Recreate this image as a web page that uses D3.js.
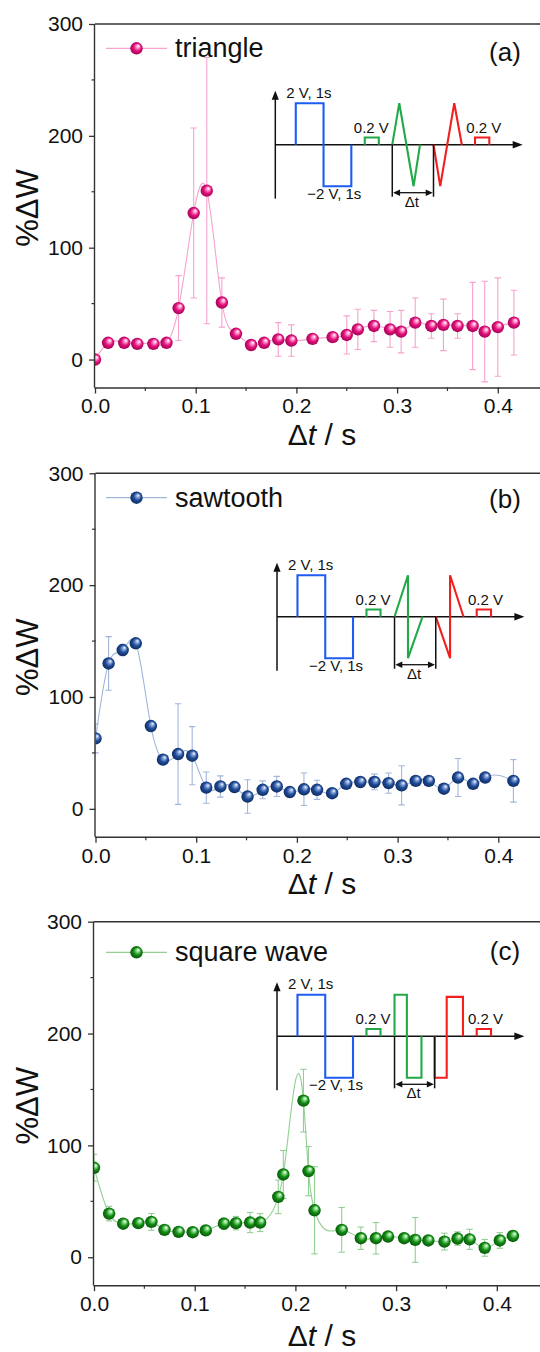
<!DOCTYPE html>
<html>
<head>
<meta charset="utf-8">
<script src="https://cdn.jsdelivr.net/npm/d3@7"></script>
<style>
  body { margin: 0; background: #fff; }
  svg { display: block; }
  text { font-family: "Liberation Sans", Arial, sans-serif; }
</style>
</head>
<body>
<svg id="fig" width="540" height="1352"></svg>
<script>
// ---- Measured %ΔW versus pulse separation Δt (s) ----
const triangleX = [0, 0.013, 0.029, 0.042, 0.058, 0.071, 0.083, 0.098, 0.111, 0.126, 0.140, 0.155, 0.168, 0.182, 0.195,
                   0.216, 0.236, 0.250, 0.261, 0.277, 0.293, 0.304, 0.318, 0.334, 0.346, 0.360, 0.375, 0.387, 0.400, 0.416];
const triangleY = [0, 15, 15, 14, 14, 15, 46, 131, 151, 51, 23, 13, 15, 18, 17,
                   18.5, 20, 22, 27, 30, 27, 25, 33, 30, 31, 30, 30, 25, 29, 33];
const triangleErr = [0, 4, 3, 4, 3, 3, 29, 76, 119, 22, 3, 3, 3, 15, 14,
                     3, 4, 17, 18, 14, 16, 19, 22, 11, 23, 11, 39, 45, 44, 29];

const sawtoothX = [0, 0.013, 0.027, 0.040, 0.055, 0.067, 0.082, 0.096, 0.110, 0.124, 0.138, 0.151, 0.166, 0.180, 0.193,
                   0.207, 0.220, 0.235, 0.249, 0.263, 0.277, 0.291, 0.304, 0.318, 0.331, 0.346, 0.360, 0.375, 0.387, 0.415];
const sawtoothY = [63, 130, 142, 148, 74, 44, 49, 47.5, 19, 20, 19.5, 11, 17, 20, 15,
                   17.5, 17, 14, 22.4, 24, 24, 23, 21, 25, 25, 18, 28, 22.4, 28, 25];
const sawtoothErr = [13, 24, 5, 3, 3, 3, 45, 26, 14, 9.5, 3, 15, 8, 9, 3,
                     14.5, 8.5, 3, 3, 3, 7, 9, 17.5, 3, 3, 4, 17, 4, 3, 19];

const squareX = [0, 0.015, 0.029, 0.044, 0.057, 0.070, 0.084, 0.098, 0.111, 0.129, 0.141, 0.155, 0.165, 0.183, 0.188,
                 0.208, 0.213, 0.219, 0.246, 0.265, 0.280, 0.292, 0.308, 0.319, 0.332, 0.348, 0.361, 0.373, 0.388, 0.403, 0.416];
const squareY = [80, 39, 30, 30.5, 31.6, 24.5, 22.7, 22.4, 24, 30, 30.5, 31, 31, 54, 74,
                 140, 77, 42, 24.5, 17, 17, 18.5, 17, 15.5, 15, 14, 16.7, 16, 8.4, 15, 19];
const squareErr = [12, 6.5, 3, 3, 7.5, 3, 3, 3, 3, 5, 6, 9, 8, 15, 21.5,
                   28, 22, 39, 20, 10, 14, 4, 4, 20, 3, 7.5, 6, 9, 7.5, 7, 3];

const seriesNames = ["triangle", "sawtooth", "square wave"];
const panelLabels = ["(a)", "(b)", "(c)"];
const yTicks = [0, 100, 200, 300];
const yMinorTicks = [50, 150, 250];
const xTicks = [0, 0.1, 0.2, 0.3, 0.4];
const xMinorTicks = [0.05, 0.15, 0.25, 0.35, 0.45];

// ---- Pulse-sequence schematic (t in units of one 1 s pulse, v in volts; probe level drawn enlarged) ----
const writePulse = [[0.73, 0], [0.73, 2], [1.72, 2], [1.72, -2], [2.71, -2], [2.71, 0]];
const probeBefore = [[3.19, 0], [3.19, 0.35], [3.69, 0.35], [3.69, 0]];
const probeAfter = [[7.12, 0], [7.12, 0.35], [7.63, 0.35], [7.63, 0]];
const trianglePair = [[[4.17, 0], [4.42, 2], [4.93, -2], [5.16, 0]],
                      [[5.64, 0], [5.88, -2], [6.38, 2], [6.65, 0]]];
const sawtoothPair = [[[4.19, 0], [4.67, 2], [4.67, -2], [5.19, 0]],
                      [[5.66, 0], [6.17, -2], [6.17, 2], [6.65, 0]]];
const squarePair = [[[4.19, 0], [4.19, 2], [4.63, 2], [4.63, -2], [5.15, -2], [5.15, 0]],
                    [[5.62, 0], [5.62, -2], [6.05, -2], [6.05, 1.9], [6.63, 1.9], [6.63, 0]]];
const axisEnd = 8.82;

// ---- Natural cubic spline y(x) as a d3 curve ----
function SplineX(context) { this._context = context; }
SplineX.prototype = {
  areaStart() {}, areaEnd() {},
  lineStart() { this._x = []; this._y = []; },
  point(x, y) { this._x.push(+x); this._y.push(+y); },
  lineEnd() {
    const x = this._x, y = this._y, n = x.length, c = this._context;
    if (!n) return;
    c.moveTo(x[0], y[0]);
    if (n === 2) { c.lineTo(x[1], y[1]); return; }
    const h = [], M = new Array(n).fill(0);
    for (let i = 0; i < n - 1; i++) h.push(x[i + 1] - x[i]);
    // tridiagonal system for interior second derivatives
    const a = [], b = [], cc = [], r = [];
    for (let i = 1; i < n - 1; i++) {
      a.push(h[i - 1]); b.push(2 * (h[i - 1] + h[i])); cc.push(h[i]);
      r.push(6 * ((y[i + 1] - y[i]) / h[i] - (y[i] - y[i - 1]) / h[i - 1]));
    }
    const m = b.length;
    for (let i = 1; i < m; i++) {
      const w = a[i] / b[i - 1];
      b[i] -= w * cc[i - 1]; r[i] -= w * r[i - 1];
    }
    const sol = new Array(m);
    sol[m - 1] = r[m - 1] / b[m - 1];
    for (let i = m - 2; i >= 0; i--) sol[i] = (r[i] - cc[i] * sol[i + 1]) / b[i];
    for (let i = 0; i < m; i++) M[i + 1] = sol[i];
    const d = new Array(n);
    for (let i = 0; i < n - 1; i++) d[i] = (y[i + 1] - y[i]) / h[i] - h[i] * (2 * M[i] + M[i + 1]) / 6;
    d[n - 1] = (y[n - 1] - y[n - 2]) / h[n - 2] + h[n - 2] * (M[n - 2] + 2 * M[n - 1]) / 6;
    for (let i = 0; i < n - 1; i++) {
      const k = h[i] / 3;
      c.bezierCurveTo(x[i] + k, y[i] + d[i] * k, x[i + 1] - k, y[i + 1] - d[i + 1] * k, x[i + 1], y[i + 1]);
    }
  }
};
const curveSplineX = ctx => new SplineX(ctx);

// ---- Layout ----
const svg = d3.select("#fig");
const defs = svg.append("defs");
const plotH = 363.5;
const pxPerUnit = 1007;
const axisColor = "#333";

const panels = [
  { xs: triangleX, ys: triangleY, es: triangleErr, pair: trianglePair,
    top: 24, left: 95, legendY: 48.3, labelY: 61, insetX: 275.3, insetY: 144.7, titleY: 445,
    dot: "#e3117c", dotLight: "#ff9fd0", dotDark: "#99004f", line: "#f5a3cf" },
  { xs: sawtoothX, ys: sawtoothY, es: sawtoothErr, pair: sawtoothPair,
    top: 473.3, left: 95.5, legendY: 497.7, labelY: 507.5, insetX: 277, insetY: 616.7, titleY: 894,
    dot: "#1f4c98", dotLight: "#8fa9dc", dotDark: "#0c2658", line: "#a2b6da" },
  { xs: squareX, ys: squareY, es: squareErr, pair: squarePair,
    top: 921.7, left: 94, legendY: 952.3, labelY: 960, insetX: 277, insetY: 1036.3, titleY: 1346,
    dot: "#138c13", dotLight: "#8ee08e", dotDark: "#054d07", line: "#93cf93" }
];

panels.forEach((p, k) => {
  const x = d3.scaleLinear().domain([0, 0.46]).range([p.left, p.left + 0.46 * pxPerUnit]);
  const y = d3.scaleLinear().domain([-25, 300]).range([p.top + plotH, p.top]);
  const g = svg.append("g");

  // ball-shaded marker
  const gid = "ball" + k;
  const grad = defs.append("radialGradient").attr("id", gid)
    .attr("cx", "0.5").attr("cy", "0.5").attr("r", "0.55").attr("fx", "0.66").attr("fy", "0.3");
  grad.append("stop").attr("offset", "0").attr("stop-color", "#ffffff");
  grad.append("stop").attr("offset", "0.22").attr("stop-color", p.dotLight);
  grad.append("stop").attr("offset", "0.55").attr("stop-color", p.dot);
  grad.append("stop").attr("offset", "1").attr("stop-color", p.dotDark);

  const cid = "clip" + k;
  defs.append("clipPath").attr("id", cid).append("rect")
    .attr("x", x(0)).attr("y", y(300)).attr("width", 540 - x(0)).attr("height", plotH);

  const pts = p.xs.map((v, i) => ({ x: v, y: p.ys[i], e: p.es[i] }));
  const data = g.append("g").attr("clip-path", `url(#${cid})`);

  // connecting spline
  data.append("path").datum(pts)
    .attr("d", d3.line().x(d => x(d.x)).y(d => y(d.y)).curve(curveSplineX))
    .attr("fill", "none").attr("stroke", p.line).attr("stroke-width", 1.1);

  // error bars
  const eb = data.append("g").attr("stroke", p.line).attr("stroke-width", 1.1);
  pts.filter(d => d.e > 0).forEach(d => {
    const cx = x(d.x);
    eb.append("line").attr("x1", cx).attr("x2", cx).attr("y1", y(d.y - d.e)).attr("y2", y(d.y + d.e));
    eb.append("line").attr("x1", cx - 3.2).attr("x2", cx + 3.2).attr("y1", y(d.y - d.e)).attr("y2", y(d.y - d.e));
    eb.append("line").attr("x1", cx - 3.2).attr("x2", cx + 3.2).attr("y1", y(d.y + d.e)).attr("y2", y(d.y + d.e));
  });

  // markers
  data.selectAll("circle").data(pts).join("circle")
    .attr("cx", d => x(d.x)).attr("cy", d => y(d.y)).attr("r", 6.2)
    .attr("fill", `url(#${gid})`);

  // frame: top, left, bottom
  g.append("line").attr("x1", x(0)).attr("x2", 540).attr("y1", y(300)).attr("y2", y(300))
    .attr("stroke", axisColor).attr("stroke-width", 1.4);

  const yAxis = d3.axisLeft(y).tickValues(yTicks).tickSize(6).tickPadding(6).tickFormat(d3.format("d"));
  const ya = g.append("g").attr("transform", `translate(${x(0)},0)`).call(yAxis);
  ya.select(".domain").attr("d", `M-0.5,${y(300)}V${y(-25)}`).attr("stroke", axisColor).attr("stroke-width", 1.4);
  ya.selectAll(".tick line").attr("stroke", axisColor).attr("stroke-width", 1.3);
  ya.selectAll(".tick text").attr("font-size", 21).attr("fill", "#111")
    .attr("font-family", '"Liberation Sans", Arial, sans-serif');
  g.append("g").selectAll("line").data(yMinorTicks).join("line")
    .attr("x1", x(0) - 3.5).attr("x2", x(0)).attr("y1", d => y(d)).attr("y2", d => y(d))
    .attr("stroke", axisColor).attr("stroke-width", 1.2);

  const xAxis = d3.axisBottom(x).tickValues(xTicks).tickSize(6).tickPadding(5).tickFormat(d3.format(".1f"));
  const xa = g.append("g").attr("transform", `translate(0,${y(-25)})`).call(xAxis);
  xa.select(".domain").attr("d", `M${x(0) - 0.5},0.5H540`).attr("stroke", axisColor).attr("stroke-width", 1.4);
  xa.selectAll(".tick line").attr("stroke", axisColor).attr("stroke-width", 1.3);
  xa.selectAll(".tick text").attr("font-size", 21).attr("fill", "#111")
    .attr("font-family", '"Liberation Sans", Arial, sans-serif');
  g.append("g").selectAll("line").data(xMinorTicks).join("line")
    .attr("x1", d => x(d)).attr("x2", d => x(d)).attr("y1", y(-25)).attr("y2", y(-25) + 3.5)
    .attr("stroke", axisColor).attr("stroke-width", 1.2);

  // axis titles
  g.append("text").attr("transform", `translate(38,${p.top + 184}) rotate(-90)`)
    .attr("text-anchor", "middle").attr("font-size", 31).attr("fill", "#111").text("%ΔW");
  const xt = g.append("text").attr("x", 322).attr("y", p.titleY).attr("text-anchor", "middle")
    .attr("font-size", 30).attr("fill", "#111");
  xt.append("tspan").text("Δ");
  xt.append("tspan").attr("font-style", "italic").text("t");
  xt.append("tspan").text(" / s");

  // legend
  g.append("line").attr("x1", 106).attr("x2", 167).attr("y1", p.legendY).attr("y2", p.legendY)
    .attr("stroke", p.line).attr("stroke-width", 1.2);
  g.append("circle").attr("cx", 136.5).attr("cy", p.legendY).attr("r", 6.2).attr("fill", `url(#${gid})`);
  g.append("text").attr("x", 175).attr("y", p.legendY + 9).attr("font-size", 27).attr("fill", "#111")
    .text(seriesNames[k]);

  // panel label
  g.append("text").attr("x", 505).attr("y", p.labelY).attr("text-anchor", "middle")
    .attr("font-size", 26).attr("fill", "#111").text(panelLabels[k]);

  // ---- inset: pulse sequence schematic ----
  const it = d3.scaleLinear().domain([0, 1]).range([0, 28.05]);
  const iv = d3.scaleLinear().domain([-2, 2]).range([41.5, -41.5]);
  const ins = g.append("g").attr("transform", `translate(${p.insetX},${p.insetY})`);
  const wave = d3.line().x(d => it(d[0])).y(d => iv(d[1]));

  // axes with arrowheads
  ins.append("line").attr("x1", 0).attr("x2", 0).attr("y1", iv(2.45)).attr("y2", iv(-2.6))
    .attr("stroke", "#111").attr("stroke-width", 1.5);
  ins.append("path").attr("d", `M0,${iv(2.6)}l-3.6,9h7.2z`).attr("fill", "#111");
  ins.append("line").attr("x1", 0).attr("x2", it(axisEnd) - 6).attr("y1", 0).attr("y2", 0)
    .attr("stroke", "#111").attr("stroke-width", 1.5);
  ins.append("path").attr("d", `M${it(axisEnd)},0l-10,-3.8v7.6z`).attr("fill", "#111");

  const waves = [
    [writePulse, "#1f5cf2"], [probeBefore, "#22aa4a"], [p.pair[0], "#22aa4a"],
    [p.pair[1], "#f21f1f"], [probeAfter, "#f21f1f"]
  ];
  waves.forEach(([w, col]) => {
    ins.append("path").attr("d", wave(w)).attr("fill", "none").attr("stroke", col)
      .attr("stroke-width", 2.1).attr("stroke-linejoin", "miter");
  });

  // Δt markers and double arrow
  const t1 = it(p.pair[0][0][0]), t2 = it(p.pair[1][0][0]);
  [t1, t2].forEach(tx => ins.append("line").attr("x1", tx).attr("x2", tx).attr("y1", 0).attr("y2", 52)
    .attr("stroke", "#111").attr("stroke-width", 1.5));
  ins.append("line").attr("x1", t1 + 5).attr("x2", t2 - 5).attr("y1", 48).attr("y2", 48)
    .attr("stroke", "#111").attr("stroke-width", 1.3);
  ins.append("path").attr("d", `M${t1 + 0.8},48l7,-3.2v6.4z M${t2 - 0.8},48l-7,-3.2v6.4z`).attr("fill", "#111");

  const lab = (tx, ty, s, anchor) => ins.append("text").attr("x", tx).attr("y", ty)
    .attr("text-anchor", anchor || "start").attr("font-size", 15).attr("fill", "#111").text(s);
  lab(11, -47, "2 V, 1s");
  lab(32, 54, "\u22122 V, 1s");
  lab(78.5, -12, "0.2 V");
  lab(191, -12, "0.2 V");
  lab((t1 + t2) / 2 - 1, 62, "Δt", "middle");
});
</script>
</body>
</html>
